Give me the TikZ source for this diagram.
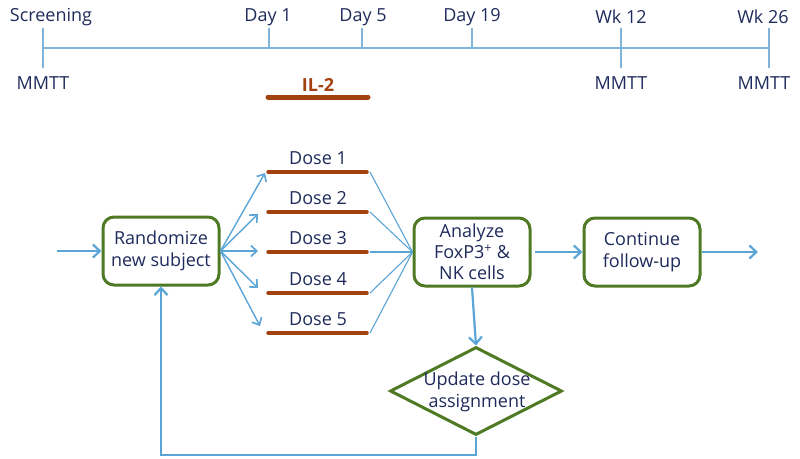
\documentclass[tikz,border=0pt]{standalone}
\usepackage{fontspec}
\setmainfont{Open Sans}
\usetikzlibrary{arrows.meta,shapes.geometric}
\definecolor{txt}{HTML}{1F2B5C}
\definecolor{tlc}{HTML}{80B4DA}
\definecolor{arr}{HTML}{5AA5D6}
\definecolor{grn}{HTML}{4F7A24}
\definecolor{brn}{HTML}{A1420F}
\tikzset{
  lbl/.style={font=\fontsize{18}{22}\selectfont, text=txt, inner sep=0pt},
  tline/.style={draw=tlc, line width=1.2pt},
  box/.style={draw=grn, line width=3pt, rounded corners=11pt, fill=white,
    minimum width=116pt, minimum height=68pt, align=center,
    font=\fontsize{18}{22}\selectfont, text=txt, inner sep=1pt},
  dia/.style={draw=grn, line width=3pt, diamond, aspect=1.95, fill=white,
    minimum width=172pt, minimum height=88pt, inner sep=0pt},
  bar/.style={draw=brn, line width=3.5pt, line cap=round},
  thick arrow/.style={draw=arr, line width=2.2pt, -{Straight Barb[length=7pt,width=13pt,line width=2.2pt]}},
  fan arrow/.style={draw=arr, line width=1.4pt, -{Straight Barb[length=6pt,width=11pt,line width=1.6pt]}},
  conv/.style={draw=arr, line width=1.1pt},
}
\begin{document}
\begin{tikzpicture}[x=1pt,y=-1pt]
\useasboundingbox (0,0) rectangle (800,458);
% timeline
\coordinate (t0) at (43,48);
\coordinate (t1) at (269,48);
\coordinate (t5) at (362,48);
\coordinate (t19) at (472,48);
\coordinate (w12) at (621,48);
\coordinate (w26) at (769,48);
\draw[tline] (t0) -- (w26);
\draw[tline] (43,28) -- (43,68);
\draw[tline] (269,28) -- (t1);
\draw[tline] (362,28) -- (t5);
\draw[tline] (472,28) -- (t19);
\draw[tline] (621,28) -- (621,68);
\draw[tline] (769,28) -- (769,68);
\node[lbl] (lscr) at (51,17) {Screening};
\node[lbl] (ld1) at (268,17) {Day 1};
\node[lbl] (ld5) at (363,17) {Day 5};
\node[lbl] (ld19) at (472,17) {Day 19};
\node[lbl] (lw12) at (621,17) {Wk 12};
\node[lbl] (lw26) at (763,17) {Wk 26};
\node[lbl] (m0) at (43,83) {MMTT};
\node[lbl] (m12) at (621,83) {MMTT};
\node[lbl] (m26) at (764,83) {MMTT};
\node[lbl, text=brn, font=\fontsize{18}{20}\bfseries] (il2) at (318,85) {IL-2};
\coordinate (il2a) at (268,97);
\coordinate (il2b) at (368,97);
\draw[bar, line width=5pt] (il2a) -- (il2b);
% flow
\node[box] (rand) at (161,251) {Randomize\\new subject};
\node[box, font=\fontsize{18}{21}\selectfont] (ana) at (472,252) {Analyze\\FoxP3\textsuperscript{+} \&\\NK cells};
\node[box] (cont) at (642,252) {Continue\\follow-up};
\node[dia] (upd) at (476,391) {};
\node[lbl, align=center] (updt) at (477,392) {Update dose\\assignment};
\coordinate (in) at (57,251);
\coordinate (out) at (758,252);
\draw[thick arrow] (in) -- (rand.west);
\draw[thick arrow] (ana.east) ++(3,0) coordinate (ae) (ae) -- (cont.west);
\draw[thick arrow] (cont.east) -- (out);
\draw[thick arrow] (ana.south) -- (upd.north);
\coordinate (fb) at (476,455);
\coordinate (fb2) at (161,455);
\draw[thick arrow] (upd.south) -- (fb) -- (fb2) -- (rand.south);
% doses
\foreach \i/\y in {1/172,2/212,3/252,4/293,5/333}{
  \coordinate (dw\i) at (268,\y);
  \coordinate (de\i) at (367,\y);
  \draw[bar] (dw\i) -- (de\i);
  \node[lbl] (dl\i) at (318,\y-14) {Dose \i};
  \coordinate (dc\i) at (370,\y);
  \draw[conv] (dc\i) -- (ana.west);
}
\coordinate (fa1) at (265,173);
\coordinate (fa2) at (258,214);
\coordinate (fa3) at (258,251);
\coordinate (fa4) at (258,288);
\coordinate (fa5) at (260,326);
\foreach \i in {1,...,5}{
  \draw[fan arrow] (rand.east) -- (fa\i);
}
\end{tikzpicture}
\end{document}
